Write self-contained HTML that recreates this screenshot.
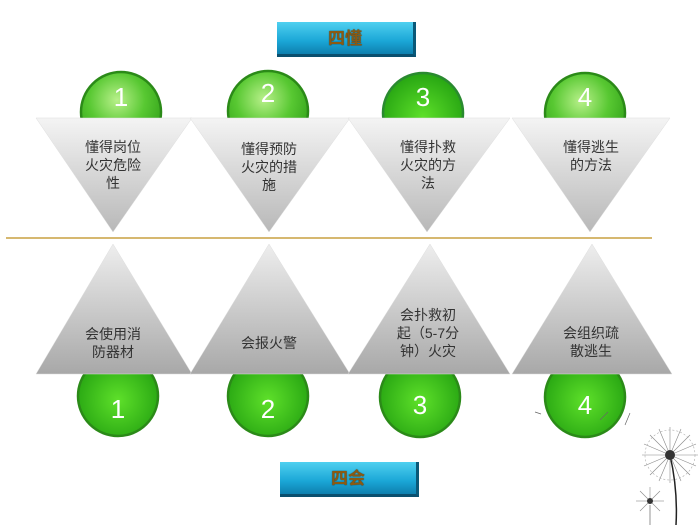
<!DOCTYPE html>
<html><head><meta charset="utf-8"><style>
body{margin:0;width:700px;height:525px;background:#fff;overflow:hidden;position:relative;font-family:"Liberation Sans","Noto Sans CJK SC",sans-serif}
.btn{position:absolute;width:139px;height:35px;background:linear-gradient(#4fd0f0,#1aa6d6 60%,#0e7fae);border-right:3px solid #0a5878;border-bottom:3px solid #0a4f6e;box-sizing:border-box;text-align:center;line-height:33px;font-size:17px;font-weight:bold;color:#8a5a12;text-shadow:0 0 1px #222}
.t{position:absolute;text-align:center;font-size:14px;line-height:18px;color:#333;width:90px}
</style></head><body>
<svg width="700" height="525" style="position:absolute;left:0;top:0">
<defs>
<radialGradient id="g" cx="0.45" cy="0.35" r="0.7"><stop offset="0" stop-color="#b8f08a"/><stop offset="0.5" stop-color="#58c832"/><stop offset="1" stop-color="#2a9a14"/></radialGradient>
<radialGradient id="g3" cx="0.5" cy="0.55" r="0.6"><stop offset="0" stop-color="#5ee02a"/><stop offset="1" stop-color="#22a010"/></radialGradient>
<linearGradient id="td" x1="0" y1="0" x2="0" y2="1"><stop offset="0" stop-color="#f4f4f4"/><stop offset="1" stop-color="#b8b8b8"/></linearGradient>
<linearGradient id="tu" x1="0" y1="0" x2="0" y2="1"><stop offset="0" stop-color="#eeeeee"/><stop offset="1" stop-color="#a8a8a8"/></linearGradient>
</defs>
<g stroke="#2b8a18" stroke-width="2.5">
<circle cx="121" cy="112" r="40" fill="url(#g)"/>
<circle cx="268" cy="111" r="40" fill="url(#g)"/>
<circle cx="423" cy="113" r="40" fill="url(#g3)" stroke="#2a8a30"/>
<circle cx="585" cy="113" r="40" fill="url(#g)"/>
<circle cx="118" cy="396" r="40" fill="url(#g3)"/>
<circle cx="268" cy="396" r="40" fill="url(#g3)"/>
<circle cx="420" cy="397" r="40" fill="url(#g3)"/>
<circle cx="585" cy="397" r="40" fill="url(#g3)"/>
</g>
<g fill="#fff" font-size="26" text-anchor="middle" font-family="Liberation Sans">
<text x="121" y="106">1</text><text x="268" y="102">2</text><text x="423" y="106">3</text><text x="585" y="106">4</text>
<text x="118" y="418">1</text><text x="268" y="418">2</text><text x="420" y="414">3</text><text x="585" y="414">4</text>
</g>
<g fill="url(#td)" stroke="#ddd" stroke-width="0.5">
<polygon points="36,118 192,118 113,232"/>
<polygon points="190,118 350,118 269,232"/>
<polygon points="348,118 510,118 427,232"/>
<polygon points="512,118 670,118 590,232"/>
</g>
<g fill="url(#tu)" stroke="#ddd" stroke-width="0.5">
<polygon points="36,374 192,374 113,244"/>
<polygon points="190,374 350,374 269,244"/>
<polygon points="348,374 510,374 430,244"/>
<polygon points="512,374 672,374 592,244"/>
</g>
<line x1="6" y1="238" x2="652" y2="238" stroke="#c8a040" stroke-width="1.5"/>
<g stroke="#666" fill="none" stroke-width="0.7">
<path d="M676 525 Q678 490 670 455" stroke="#222" stroke-width="1.5"/>
<path d="M650 525 L650 505"/>
<path d="M600 420 l8 -8 M625 425 l5 -12 M535 412 l6 2"/>
</g>
<g stroke="#888" stroke-width="0.6" id="d1">
<line x1="670" y1="455" x2="698" y2="455"/><line x1="670" y1="455" x2="642" y2="455"/>
<line x1="670" y1="455" x2="670" y2="427"/><line x1="670" y1="455" x2="670" y2="483"/>
<line x1="670" y1="455" x2="690" y2="435"/><line x1="670" y1="455" x2="650" y2="475"/>
<line x1="670" y1="455" x2="650" y2="435"/><line x1="670" y1="455" x2="690" y2="475"/>
<line x1="670" y1="455" x2="696" y2="444"/><line x1="670" y1="455" x2="644" y2="466"/>
<line x1="670" y1="455" x2="681" y2="429"/><line x1="670" y1="455" x2="659" y2="481"/>
<line x1="670" y1="455" x2="659" y2="429"/><line x1="670" y1="455" x2="681" y2="481"/>
<line x1="670" y1="455" x2="644" y2="444"/><line x1="670" y1="455" x2="696" y2="466"/>
<circle cx="670" cy="455" r="25" fill="none" stroke="#aaa" stroke-dasharray="2 2"/>
<line x1="650" y1="501" x2="664" y2="501"/><line x1="650" y1="501" x2="636" y2="501"/>
<line x1="650" y1="501" x2="650" y2="487"/><line x1="650" y1="501" x2="660" y2="491"/>
<line x1="650" y1="501" x2="640" y2="491"/><line x1="650" y1="501" x2="660" y2="511"/><line x1="650" y1="501" x2="640" y2="511"/>
</g>
<circle cx="670" cy="455" r="5" fill="#333"/>
<circle cx="650" cy="501" r="3" fill="#333"/>
</svg>
<div class="btn" style="left:277px;top:22px">四懂</div>
<div class="btn" style="left:280px;top:462px">四会</div>
<div class="t" style="left:68px;top:138px">懂得岗位<br>火灾危险<br>性</div>
<div class="t" style="left:224px;top:140px">懂得预防<br>火灾的措<br>施</div>
<div class="t" style="left:383px;top:138px">懂得扑救<br>火灾的方<br>法</div>
<div class="t" style="left:546px;top:138px">懂得逃生<br>的方法</div>
<div class="t" style="left:68px;top:325px">会使用消<br>防器材</div>
<div class="t" style="left:224px;top:334px">会报火警</div>
<div class="t" style="left:383px;top:306px">会扑救初<br>起（5-7分<br>钟）火灾</div>
<div class="t" style="left:546px;top:324px">会组织疏<br>散逃生</div>
</body></html>
